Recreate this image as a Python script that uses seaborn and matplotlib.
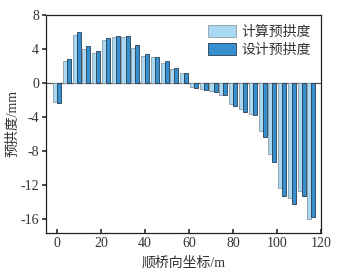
import numpy as np
import pandas as pd
import matplotlib
matplotlib.use("Agg")
import matplotlib.pyplot as plt
import seaborn as sns

# bridge coordinate of each section (m)
position = [0, 4.5, 9, 13.4, 17.8, 22.3, 26.7, 31.2, 35.6, 40.1, 44.5, 49, 53.4,
            57.9, 62.3, 66.8, 71.2, 75.7, 80.1, 84.6, 89, 93.5, 97.9, 102.4,
            106.8, 111.3, 115.7]
# calculated camber (mm)
calc_camber = [-2.2, 2.6, 5.6, 4.0, 3.5, 5.1, 5.4, 5.4, 4.1, 3.2, 3.0, 2.3, 1.6,
               1.2, -0.45, -0.75, -0.95, -1.35, -2.5, -3.05, -3.65, -5.6, -8.3,
               -12.35, -13.5, -12.65, -16.0]
# design camber (mm)
design_camber = [-2.4, 2.8, 6.0, 4.4, 3.8, 5.3, 5.5, 5.5, 4.5, 3.4, 3.1, 2.6, 1.8,
                 1.2, -0.6, -0.85, -1.1, -1.45, -2.7, -3.45, -3.8, -6.35, -9.25,
                 -13.3, -14.2, -13.25, -15.7]
labels = ["计算预拱度", "设计预拱度"]

df = pd.concat([
    pd.DataFrame({"x": position, "y": calc_camber, "series": labels[0]}),
    pd.DataFrame({"x": position, "y": design_camber, "series": labels[1]}),
])

sns.set_theme(style="ticks")
plt.rcParams["font.family"] = ["Liberation Serif", "Noto Sans CJK SC"]
plt.rcParams["axes.unicode_minus"] = False

fig = plt.figure(figsize=(3.48, 2.76), dpi=100)
ax = fig.add_axes([0.132, 0.156, 0.79, 0.79])

colors = ["#a8d8f2", "#3690d0"]
sns.barplot(data=df, x="x", y="y", hue="series", native_scale=True,
            palette=colors, saturation=1, width=0.84, ax=ax, legend=True)

edges = ["#8e9aa3", "#2a3d50"]
for cont, ec in zip(ax.containers, edges):
    for bar in cont:
        bar.set_edgecolor(ec)
        bar.set_linewidth(0.6)

ax.axhline(0, color="#555555", lw=0.9, zorder=0.5)

ax.set_xlim(-5, 120)
ax.set_ylim(-17.6, 8)
ax.set_xticks(np.arange(0, 121, 20))
ax.set_yticks(np.arange(-16, 9, 4))
ax.tick_params(axis="x", direction="in", length=3, labelsize=10, pad=3,
               colors="#333333")
ax.tick_params(axis="y", direction="out", length=3, labelsize=10, pad=2,
               colors="#333333")
for s in ax.spines.values():
    s.set_linewidth(0.9)
    s.set_color("#222222")

ax.set_xlabel("顺桥向坐标/m", fontsize=10, labelpad=4, color="#333333")
ax.set_ylabel("预拱度/mm", fontsize=10, labelpad=1, color="#333333")

leg = ax.legend(loc="upper right", fontsize=10, frameon=False,
                handlelength=2.0, handleheight=1.0, handletextpad=0.4,
                labelspacing=0.3, borderaxespad=0.3)
for h, ec in zip(leg.legend_handles, edges):
    h.set_edgecolor(ec)
    h.set_linewidth(0.6)
for t in leg.get_texts():
    t.set_color("#333333")

fig.savefig("out.png", dpi=100)
